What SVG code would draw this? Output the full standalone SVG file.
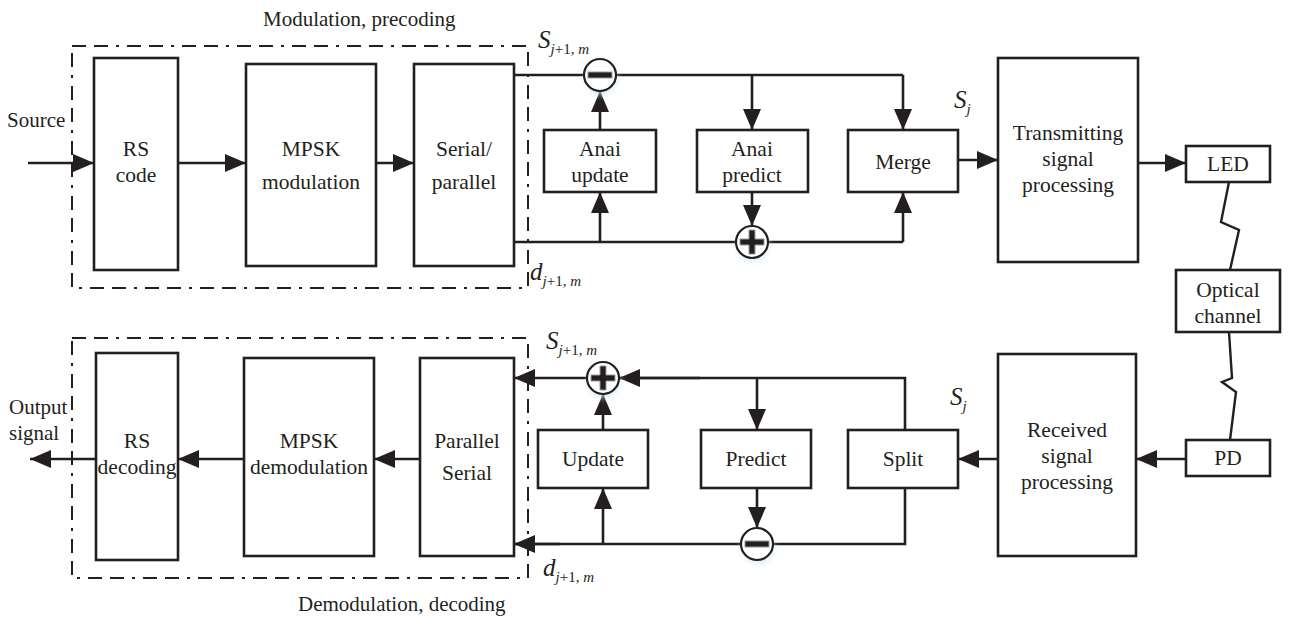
<svg xmlns="http://www.w3.org/2000/svg" width="1290" height="618" viewBox="0 0 1290 618">
  <style>
    .box { fill: #fff; stroke: #231f20; stroke-width: 2.6; }
    .dash { fill: none; stroke: #231f20; stroke-width: 2; stroke-dasharray: 14 8 14 8 3 8; }
    .ln { fill: none; stroke: #231f20; stroke-width: 2.6; }
    .arr { fill: none; stroke: #231f20; stroke-width: 2.6; marker-end: url(#ah); }
    .t { font-family: "Liberation Serif", "Times New Roman", serif; font-size: 21.5px; fill: #231f20; text-anchor: middle; }
    .lbl { font-family: "Liberation Serif", "Times New Roman", serif; font-size: 21px; fill: #231f20; }
    .it { font-family: "Liberation Serif", "Times New Roman", serif; font-style: italic; fill: #231f20; }
    .up { font-style: normal; }
    .sum { fill: #fff; stroke: #231f20; stroke-width: 2.2; }
    .glow { fill: #cfe9f7; opacity: 0.7; }
    .bar { fill: #231f20; stroke: #9a9a9a; stroke-width: 1; }
    .bolt { fill: none; stroke: #231f20; stroke-width: 2.4; stroke-linejoin: miter; }
  </style>
  <defs>
    <marker id="ah" markerUnits="userSpaceOnUse" markerWidth="24" markerHeight="18" refX="21" refY="9" orient="auto">
      <path d="M0,0 L21,9 L0,18 Z" fill="#231f20"/>
    </marker>
    <filter id="soft" x="-50%" y="-50%" width="200%" height="200%">
      <feGaussianBlur stdDeviation="3"/>
    </filter>
  </defs>

  <!-- dashed group frames -->
  <rect class="dash" x="72" y="46" width="456" height="242"/>
  <rect class="dash" x="72" y="338" width="456" height="240"/>
  <text class="lbl" x="263" y="26">Modulation, precoding</text>
  <text class="lbl" x="298" y="611">Demodulation, decoding</text>

  <!-- transmitter nodes -->
  <g id="rs-code"><rect class="box" x="94" y="58" width="84" height="212"/>
    <text class="t" x="136" y="156">RS</text><text class="t" x="136" y="182">code</text></g>
  <g id="mpsk-mod"><rect class="box" x="246" y="64" width="130" height="202"/>
    <text class="t" x="311" y="156">MPSK</text><text class="t" x="311" y="189">modulation</text></g>
  <g id="serial-parallel"><rect class="box" x="414" y="64" width="100" height="202"/>
    <text class="t" x="464" y="156">Serial/</text><text class="t" x="464" y="189">parallel</text></g>
  <g id="anai-update"><rect class="box" x="544" y="130" width="112" height="62"/>
    <text class="t" x="600" y="156">Anai</text><text class="t" x="600" y="182">update</text></g>
  <g id="anai-predict"><rect class="box" x="697" y="130" width="111" height="62"/>
    <text class="t" x="752" y="156">Anai</text><text class="t" x="752" y="182">predict</text></g>
  <g id="merge"><rect class="box" x="848" y="130" width="110" height="62"/>
    <text class="t" x="903" y="169">Merge</text></g>
  <g id="tx-proc"><rect class="box" x="998" y="58" width="140" height="204"/>
    <text class="t" x="1068" y="140">Transmitting</text><text class="t" x="1068" y="166">signal</text><text class="t" x="1068" y="192">processing</text></g>
  <g id="led"><rect class="box" x="1186" y="146" width="84" height="36"/>
    <text class="t" x="1228" y="171">LED</text></g>
  <g id="optical-channel"><rect class="box" x="1176" y="270" width="104" height="62"/>
    <text class="t" x="1228" y="297">Optical</text><text class="t" x="1228" y="323">channel</text></g>
  <g id="pd"><rect class="box" x="1186" y="440" width="84" height="36"/>
    <text class="t" x="1228" y="465">PD</text></g>

  <!-- receiver nodes -->
  <g id="rs-decoding"><rect class="box" x="96" y="353" width="82" height="207"/>
    <text class="t" x="137" y="448">RS</text><text class="t" x="137" y="474">decoding</text></g>
  <g id="mpsk-demod"><rect class="box" x="244" y="358" width="130" height="198"/>
    <text class="t" x="309" y="448">MPSK</text><text class="t" x="309" y="474">demodulation</text></g>
  <g id="parallel-serial"><rect class="box" x="420" y="358" width="94" height="198"/>
    <text class="t" x="467" y="448">Parallel</text><text class="t" x="467" y="480">Serial</text></g>
  <g id="update"><rect class="box" x="538" y="430" width="110" height="58"/>
    <text class="t" x="593" y="466">Update</text></g>
  <g id="predict"><rect class="box" x="701" y="430" width="110" height="58"/>
    <text class="t" x="756" y="466">Predict</text></g>
  <g id="split"><rect class="box" x="848" y="430" width="110" height="58"/>
    <text class="t" x="903" y="466">Split</text></g>
  <g id="rx-proc"><rect class="box" x="998" y="354" width="138" height="202"/>
    <text class="t" x="1067" y="437">Received</text><text class="t" x="1067" y="463">signal</text><text class="t" x="1067" y="489">processing</text></g>

  <!-- signal labels -->
  <text class="it" x="538" y="48" font-size="25">S<tspan font-size="15" dy="6">j<tspan class="up">+1, </tspan>m</tspan></text>
  <text class="it" x="954" y="108" font-size="25">S<tspan font-size="15" dy="6">j</tspan></text>
  <text class="it" x="530" y="280" font-size="25">d<tspan font-size="15" dy="6">j<tspan class="up">+1, </tspan>m</tspan></text>
  <text class="it" x="546" y="349" font-size="25">S<tspan font-size="15" dy="6">j<tspan class="up">+1, </tspan>m</tspan></text>
  <text class="it" x="950" y="405" font-size="25">S<tspan font-size="15" dy="6">j</tspan></text>
  <text class="it" x="543" y="576" font-size="25">d<tspan font-size="15" dy="6">j<tspan class="up">+1, </tspan>m</tspan></text>
  <text class="lbl" x="7" y="127">Source</text>
  <text class="lbl" x="9" y="414">Output</text>
  <text class="lbl" x="9" y="440">signal</text>

  <!-- connectors -->
  <g id="connectors">
    <line class="arr" x1="28" y1="163" x2="94" y2="163"/>
    <line class="arr" x1="178" y1="163" x2="246" y2="163"/>
    <line class="arr" x1="376" y1="163" x2="414" y2="163"/>
    <!-- transmit precoding loop -->
    <polyline class="ln" points="514,75 903,75"/>
    <line class="arr" x1="903" y1="75" x2="903" y2="130"/>
    <line class="arr" x1="752" y1="75" x2="752" y2="130"/>
    <line class="arr" x1="600" y1="130" x2="600" y2="91"/>
    <polyline class="ln" points="514,242 903,242"/>
    <line class="arr" x1="600" y1="242" x2="600" y2="192"/>
    <line class="arr" x1="903" y1="242" x2="903" y2="192"/>
    <line class="arr" x1="752" y1="192" x2="752" y2="226"/>
    <line class="arr" x1="958" y1="160" x2="998" y2="160"/>
    <line class="arr" x1="1138" y1="163" x2="1186" y2="163"/>
    <!-- optical links -->
    <polyline class="bolt" points="1229,182 1221,222 1239,230 1230,270"/>
    <polyline class="bolt" points="1229,332 1232,378 1222,382 1236,392 1230,440"/>
    <!-- receive loop -->
    <line class="arr" x1="1186" y1="459" x2="1136" y2="459"/>
    <line class="arr" x1="998" y1="459" x2="958" y2="459"/>
    <polyline class="ln" points="905,430 905,378 619,378"/>
    <line class="arr" x1="700" y1="378" x2="619" y2="378"/>
    <line class="arr" x1="587" y1="378" x2="514" y2="378"/>
    <line class="arr" x1="757" y1="378" x2="757" y2="430"/>
    <line class="arr" x1="603" y1="430" x2="603" y2="394"/>
    <polyline class="ln" points="905,488 905,544 514,544"/>
    <line class="arr" x1="560" y1="544" x2="514" y2="544"/>
    <line class="arr" x1="603" y1="544" x2="603" y2="488"/>
    <line class="arr" x1="757" y1="488" x2="757" y2="528"/>
    <line class="arr" x1="420" y1="459" x2="374" y2="459"/>
    <line class="arr" x1="244" y1="459" x2="178" y2="459"/>
    <line class="arr" x1="96" y1="459" x2="30" y2="459"/>
  </g>

  <!-- summing junctions -->
  <g id="sum-tx-minus">
    <circle class="glow" cx="601" cy="79" r="16" filter="url(#soft)"/>
    <circle class="sum" cx="600" cy="75" r="16"/>
    <rect class="bar" x="588" y="72" width="24" height="6"/>
  </g>
  <g id="sum-tx-plus">
    <circle class="glow" cx="753" cy="246" r="16" filter="url(#soft)"/>
    <circle class="sum" cx="752" cy="242" r="16"/>
    <path class="bar" d="M740,239 h9 v-9 h6 v9 h9 v6 h-9 v9 h-6 v-9 h-9 Z"/>
  </g>
  <g id="sum-rx-plus">
    <circle class="glow" cx="604" cy="382" r="16" filter="url(#soft)"/>
    <circle class="sum" cx="603" cy="378" r="16"/>
    <path class="bar" d="M591,375 h9 v-9 h6 v9 h9 v6 h-9 v9 h-6 v-9 h-9 Z"/>
  </g>
  <g id="sum-rx-minus">
    <circle class="glow" cx="758" cy="548" r="16" filter="url(#soft)"/>
    <circle class="sum" cx="757" cy="544" r="16"/>
    <rect class="bar" x="745" y="541" width="24" height="6"/>
  </g>
</svg>
